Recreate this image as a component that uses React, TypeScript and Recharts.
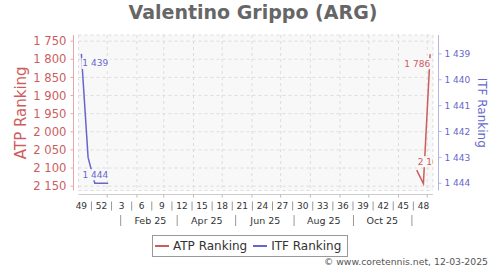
import React from 'react';
import { ComposedChart, Line, XAxis, YAxis, CartesianGrid, ReferenceArea, LabelList, Legend } from 'recharts';

const FONT = '"DejaVu Sans", Verdana, sans-serif';
const ATP_COLOR = '#cd5c5c';
const ITF_COLOR = '#6666cc';
const PLOT_BG = '#f8f8f8';

// ---- data ----
const itfDates = ['2024-12-05', '2024-12-12', '2024-12-19', '2024-12-26', '2025-01-02'];
const itfRanks = [1439, 1443, 1444, 1444, 1444];
const atpDates = ['2025-11-20', '2025-11-27', '2025-12-04'];
const atpRanks = [2106, 2143, 1786];

const atpTicks = [1750, 1800, 1850, 1900, 1950, 2000, 2050, 2100, 2150];
const itfTicks = [1439, 1440, 1441, 1442, 1443, 1444];
const atpDomain = [1733, 2162];
const itfDomain = [1438.27, 1444.28];

const weekLabels = ['49', '52', '3', '6', '9', '12', '15', '18', '21', '24', '27', '30', '33', '36', '39', '42', '45', '48'];
const weekLabelDates = ['2024-12-05', '2024-12-26', '2025-01-16', '2025-02-06', '2025-02-27', '2025-03-20', '2025-04-10', '2025-05-01', '2025-05-22', '2025-06-12', '2025-07-03', '2025-07-24', '2025-08-14', '2025-09-04', '2025-09-25', '2025-10-16', '2025-11-06', '2025-11-27'];
const monthStartDates = ['2025-01-01', '2025-02-01', '2025-03-01', '2025-04-01', '2025-05-01', '2025-06-01', '2025-07-01', '2025-08-01', '2025-09-01', '2025-10-01', '2025-11-01', '2025-12-01'];
const monthLabels = ['Feb 25', 'Apr 25', 'Jun 25', 'Aug 25', 'Oct 25'];
const monthLabelDates = ['2025-02-15', '2025-04-15', '2025-06-15', '2025-08-15', '2025-10-15'];
const monthSeparatorDates = ['2025-01-15', '2025-03-15', '2025-05-15', '2025-07-15', '2025-09-15', '2025-11-15'];
const xDomainDates = ['2024-12-02', '2025-12-07'];

// ---- helpers ----
const day = (iso: string) => new Date(iso + 'T00:00:00Z').getTime() / 86400000;
const fmt = (v: number) => `${Math.floor(v / 1000)} ${String(v % 1000).padStart(3, '0')}`;

const xDomain = xDomainDates.map(day);
const itfData = itfDates.map((d, i) => ({ t: day(d), itf: itfRanks[i] }));
const atpData = atpDates.map((d, i) => ({ t: day(d), atp: atpRanks[i] }));
const weekLabelDays = weekLabelDates.map(day);
const weekSepDays = weekLabelDays.slice(1).map((v, i) => (v + weekLabelDays[i]) / 2);
const weekTicks = [...weekLabelDays, ...weekSepDays].sort((a, b) => a - b);
const monthStartDays = monthStartDates.map(day);
const monthLabelDays = monthLabelDates.map(day);
const monthTicks = [...monthLabelDays, ...monthSeparatorDates.map(day)].sort((a, b) => a - b);

// ---- layout ----
const W = 500;
const H = 270;
const M_TOP = 35;
const LGAP = 5;
const ATP_W = 73.5;
const RGAP = 5.5;
const ITF_W = 61.5;
const XGAP_H = 4;
const XMAIN_H = 3;
const XWEEK_H = 16;
const XMONTH_H = 18;
const M_BOTTOM = 38.5;
const PLOT_LEFT = LGAP + ATP_W;
const PLOT_RIGHT = W - RGAP - ITF_W;
const PLOT_TOP = M_TOP;
const PLOT_BOTTOM = H - M_BOTTOM - XGAP_H - XMAIN_H - XWEEK_H - XMONTH_H;

const EmptyTick = () => <g />;

const findIdx = (arr: number[], v: number) => arr.findIndex((a) => Math.abs(a - v) < 0.001);

const WeekTick = (props: any) => {
  const { x, y, payload } = props;
  const idx = findIdx(weekLabelDays, payload.value);
  if (idx >= 0)
    return (
      <text x={x} y={y + 11} textAnchor="middle" fontSize={9} fill="#333" fontFamily={FONT}>
        {weekLabels[idx]}
      </text>
    );
  return <line x1={x} x2={x} y1={y + 4} y2={y + 13} stroke="#999" strokeWidth={1} />;
};

const MonthTick = (props: any) => {
  const { x, y, payload } = props;
  const idx = findIdx(monthLabelDays, payload.value);
  if (idx >= 0)
    return (
      <text x={x} y={y + 10.7} textAnchor="middle" fontSize={9.5} fill="#333" fontFamily={FONT}>
        {monthLabels[idx]}
      </text>
    );
  return <line x1={x} x2={x} y1={y + 1.5} y2={y + 12.5} stroke="#999" strokeWidth={1} />;
};

function makeLabel(key: string, count: number, firstPos: 'above' | 'below', lastPos: 'above' | 'below', color: string) {
  return (props: any) => {
    const x = props.x ?? props.viewBox?.x;
    const y = props.y ?? props.viewBox?.y;
    const { value, index } = props;
    let anchor: 'start' | 'end';
    let pos: 'above' | 'below';
    if (index === 0) {
      anchor = 'start';
      pos = firstPos;
    } else if (index === count - 1) {
      anchor = 'end';
      pos = lastPos;
    } else return null;
    const text = fmt(Number(value));
    const w = text.length * 5.4;
    const tx = anchor === 'start' ? x + 1 : x;
    const cy = pos === 'below' ? y + 9.5 : y - 8.5;
    const rx = anchor === 'start' ? tx - 1 : tx - w - 1;
    const id = `clip-${key}-${index}`;
    return (
      <g>
        <defs>
          <clipPath id={id}>
            <rect x={PLOT_LEFT} y={PLOT_TOP} width={PLOT_RIGHT - PLOT_LEFT} height={PLOT_BOTTOM - PLOT_TOP} />
          </clipPath>
        </defs>
        <g clipPath={`url(#${id})`}>
          <rect x={rx} y={cy - 5.5} width={w + 2} height={11} fill={PLOT_BG} />
          <text x={tx} y={cy} textAnchor={anchor} dominantBaseline="central" fontSize={9} fill={color} fontFamily={FONT}>
            {text}
          </text>
        </g>
      </g>
    );
  };
}

const LegendContent = (props: any) => {
  const payload = props.payload || [];
  return (
    <div
      style={{
        boxSizing: 'border-box',
        width: 196,
        height: 22,
        border: '1px solid #999',
        background: '#fff',
        display: 'flex',
        alignItems: 'center',
        paddingLeft: 2,
        fontFamily: FONT,
        fontSize: 12,
        color: '#333',
        whiteSpace: 'nowrap',
      }}
    >
      {payload.map((p: any, i: number) => (
        <span key={i} style={{ display: 'flex', alignItems: 'center', marginRight: 6 }}>
          <span style={{ display: 'inline-block', width: 14, height: 2, background: p.color, marginRight: 4 }} />
          {p.value}
        </span>
      ))}
    </div>
  );
};

const AtpTitle = (props: any) => {
  const vb = props.viewBox || { x: 0, y: 0, width: 0, height: 0 };
  const cx = vb.x + 21;
  const cy = vb.y + vb.height / 2;
  return (
    <text x={cx} y={cy} transform={`rotate(-90, ${cx}, ${cy})`} textAnchor="middle" dominantBaseline="central" fontSize={15} fill={ATP_COLOR} fontFamily={FONT}>
      ATP Ranking
    </text>
  );
};

const ItfTitle = (props: any) => {
  const vb = props.viewBox || { x: 0, y: 0, width: 0, height: 0 };
  const cx = vb.x + 43;
  const cy = vb.y + vb.height / 2;
  return (
    <text x={cx} y={cy} transform={`rotate(90, ${cx}, ${cy})`} textAnchor="middle" dominantBaseline="central" fontSize={12} fill={ITF_COLOR} fontFamily={FONT}>
      ITF Ranking
    </text>
  );
};

export default function App() {
  return (
    <div style={{ position: 'absolute', left: 0, top: 0, width: W, height: H, background: '#fff', fontFamily: FONT }}>
      <div
        style={{
          position: 'absolute',
          left: 0,
          top: 1,
          width: 506,
          textAlign: 'center',
          fontSize: 19,
          fontWeight: 'bold',
          color: '#666',
          fontFamily: FONT,
          lineHeight: '22px',
        }}
      >
        Valentino Grippo (ARG)
      </div>
      <ComposedChart width={W} height={H} margin={{ top: M_TOP, right: 0, bottom: M_BOTTOM, left: 0 }}>
        <XAxis xAxisId="a_gap" type="number" dataKey="t" domain={xDomain} allowDataOverflow ticks={monthStartDays} height={XGAP_H} axisLine={false} tickLine={false} tick={EmptyTick} interval={0} />
        <XAxis xAxisId="b_main" type="number" dataKey="t" domain={xDomain} allowDataOverflow ticks={monthStartDays} height={XMAIN_H} axisLine={{ stroke: '#ccc' }} tickLine={{ stroke: '#bbb' }} tickSize={3} tick={EmptyTick} interval={0} />
        <XAxis xAxisId="c_weeks" type="number" dataKey="t" domain={xDomain} allowDataOverflow ticks={weekTicks} height={XWEEK_H} axisLine={false} tickLine={false} tickSize={0} tickMargin={0} tick={WeekTick} interval={0} />
        <XAxis xAxisId="d_months" type="number" dataKey="t" domain={xDomain} allowDataOverflow ticks={monthTicks} height={XMONTH_H} axisLine={false} tickLine={false} tickSize={0} tickMargin={0} tick={MonthTick} interval={0} />

        <YAxis yAxisId="a_lgap" orientation="left" type="number" domain={[0, 1]} width={LGAP} axisLine={false} tickLine={false} tick={false} />
        <YAxis
          yAxisId="b_atp"
          orientation="left"
          type="number"
          domain={atpDomain}
          allowDataOverflow
          reversed
          ticks={atpTicks}
          interval={0}
          width={ATP_W}
          tickFormatter={fmt}
          tick={{ fill: ATP_COLOR, fontSize: 11.6, fontFamily: FONT }}
          tickSize={3}
          tickMargin={4}
          axisLine={{ stroke: '#e4a8a8' }}
          tickLine={{ stroke: '#e4a8a8' }}
          label={<AtpTitle />}
        />
        <YAxis yAxisId="a_rgap" orientation="right" type="number" domain={[0, 1]} width={RGAP} axisLine={false} tickLine={false} tick={false} />
        <YAxis
          yAxisId="b_itf"
          orientation="right"
          type="number"
          domain={itfDomain}
          allowDataOverflow
          reversed
          ticks={itfTicks}
          interval={0}
          width={ITF_W}
          tickFormatter={fmt}
          tick={{ fill: ITF_COLOR, fontSize: 9, fontFamily: FONT }}
          tickSize={3}
          tickMargin={3}
          axisLine={{ stroke: '#b4b4e4' }}
          tickLine={{ stroke: '#b4b4e4' }}
          label={<ItfTitle />}
        />

        <CartesianGrid xAxisId="a_gap" yAxisId="b_atp" fill={PLOT_BG} stroke="#dddddd" strokeDasharray="3 3" />
        <ReferenceArea xAxisId="b_main" yAxisId="b_atp" fill="none" stroke="#808080" strokeWidth={1.5} ifOverflow="visible" />

        <Line
          name="ATP Ranking"
          data={atpData}
          xAxisId="b_main"
          yAxisId="b_atp"
          dataKey="atp"
          type="linear"
          stroke={ATP_COLOR}
          strokeWidth={1.5}
          dot={false}
          activeDot={false}
          isAnimationActive={false}
        >
          <LabelList dataKey="atp" content={makeLabel('atp', atpData.length, 'above', 'below', ATP_COLOR)} />
        </Line>
        <Line
          name="ITF Ranking"
          data={itfData}
          xAxisId="b_main"
          yAxisId="b_itf"
          dataKey="itf"
          type="linear"
          stroke={ITF_COLOR}
          strokeWidth={1.5}
          dot={false}
          activeDot={false}
          isAnimationActive={false}
        >
          <LabelList dataKey="itf" content={makeLabel('itf', itfData.length, 'below', 'above', ITF_COLOR)} />
        </Line>

        <Legend layout="horizontal" verticalAlign="middle" align="center" wrapperStyle={{ top: 235, left: 152, width: 196, height: 22 }} content={LegendContent} />
      </ComposedChart>
      <div
        style={{
          position: 'absolute',
          right: 12,
          top: 256,
          fontSize: 9.3,
          color: '#555',
          fontFamily: FONT,
          lineHeight: '12px',
          whiteSpace: 'nowrap',
        }}
      >
        © www.coretennis.net, 12-03-2025
      </div>
    </div>
  );
}
